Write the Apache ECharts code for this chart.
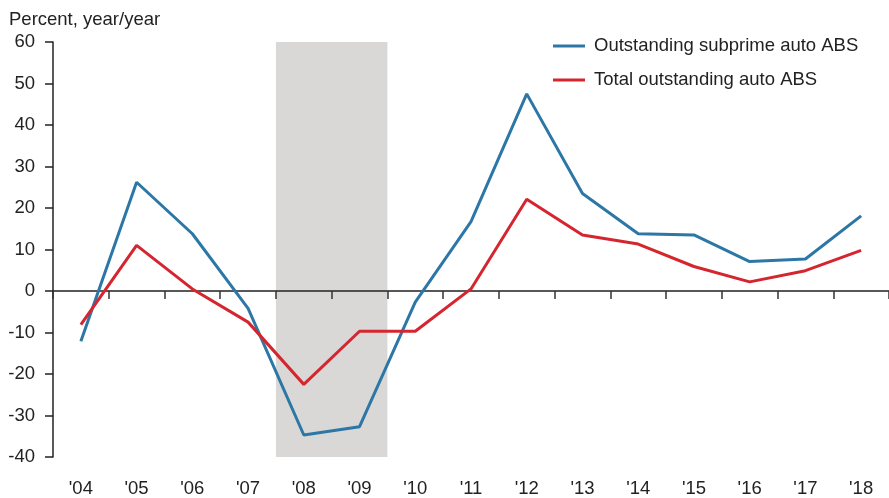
<!DOCTYPE html>
<html lang="en">
<head>
<meta charset="UTF-8">
<title>Auto ABS growth</title>
<script src="https://cdn.jsdelivr.net/npm/echarts@6/dist/echarts.min.js"></script>
<style>
body {margin: 0; padding: 0; background-color: white;}
#main {width: 889px; height: 498px;}
</style>
</head>
<body>
<div id="main"></div>
<script>
// year labels along the bottom
var years = ["'04", "'05", "'06", "'07", "'08", "'09", "'10", "'11", "'12", "'13", "'14", "'15", "'16", "'17", "'18"];

// percent change, year over year
var subprime = [-12.1, 26.2, 13.8, -4.2, -34.7, -32.7, -2.7, 16.7, 47.5, 23.5, 13.8, 13.5, 7.1, 7.7, 18.1];
var total = [-8.1, 11.0, 0.5, -7.5, -22.5, -9.7, -9.7, 0.5, 22.1, 13.5, 11.3, 5.9, 2.2, 4.9, 9.8];

// recession band, in category-band units (start of '08 to end of '09)
var recession = [4, 6];

var font = '"Liberation Sans", Arial, Helvetica, sans-serif';
var chart = echarts.init(document.getElementById('main'));

chart.setOption({
    animation: false,
    textStyle: {fontFamily: font},
    title: {
        text: 'Percent, year/year',
        left: 4,
        top: 5,
        textStyle: {fontSize: 18.5, fontWeight: 'normal', color: '#222', fontFamily: font}
    },
    legend: {
        orient: 'vertical',
        left: 548,
        top: 31,
        icon: 'rect',
        itemWidth: 32,
        itemHeight: 3,
        itemGap: 14,
        textStyle: {fontSize: 18.5, color: '#222', lineHeight: 20, padding: [0, 0, 0, 4], fontFamily: font},
        data: ['Outstanding subprime auto ABS', 'Total outstanding auto ABS']
    },
    grid: {left: 53, top: 42, width: 838, height: 417},
    xAxis: [
        {
            // zero line with ticks between years
            type: 'category',
            data: years,
            boundaryGap: true,
            z: 2,
            axisLine: {onZero: true, lineStyle: {color: '#222', width: 1.5}},
            axisTick: {show: true, length: 8, lineStyle: {color: '#333', width: 1.5}},
            axisLabel: {show: false},
            splitLine: {show: false}
        },
        {
            // labels at the bottom
            type: 'category',
            data: years,
            position: 'bottom',
            axisLine: {show: false, onZero: false},
            axisTick: {show: false},
            axisLabel: {fontSize: 18.5, color: '#222', margin: 22, fontFamily: font},
            splitLine: {show: false}
        },
        {
            type: 'value',
            min: 0,
            max: years.length,
            show: false
        }
    ],
    yAxis: {
        type: 'value',
        min: -40,
        max: 60,
        interval: 10,
        axisLine: {show: true, lineStyle: {color: '#222', width: 1.5}},
        axisTick: {show: true, length: 8, lineStyle: {color: '#222', width: 1.5}},
        axisLabel: {fontSize: 18.5, color: '#222', margin: 18, fontFamily: font},
        splitLine: {show: false}
    },
    series: [
        {
            name: 'recession',
            type: 'line',
            xAxisIndex: 2,
            data: [],
            z: 1,
            markArea: {
                silent: true,
                itemStyle: {color: '#d9d8d6'},
                data: [[{xAxis: recession[0]}, {xAxis: recession[1]}]]
            }
        },
        {
            name: 'Outstanding subprime auto ABS',
            type: 'line',
            data: subprime,
            symbol: 'none',
            z: 3,
            color: '#2c77a5',
            lineStyle: {color: '#2c77a5', width: 3}
        },
        {
            name: 'Total outstanding auto ABS',
            type: 'line',
            data: total,
            symbol: 'none',
            z: 3,
            color: '#d5252f',
            lineStyle: {color: '#d5252f', width: 3}
        }
    ]
});
</script>
</body>
</html>
